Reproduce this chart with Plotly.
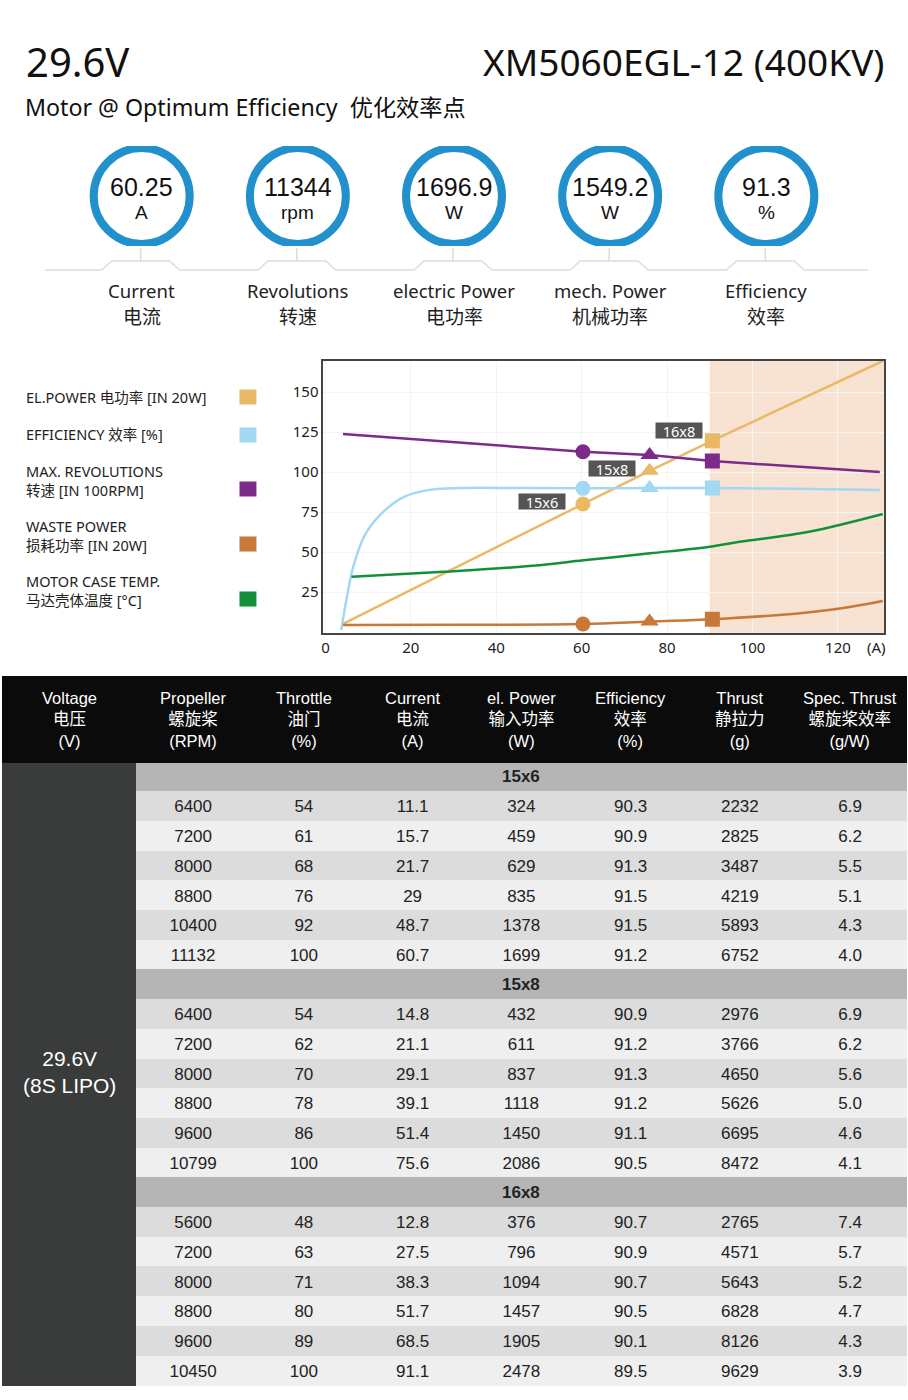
import plotly.graph_objects as go

W, H = 908, 1400


def fx(p):
    # pixel x -> paper
    return p / W


def fy(p):
    # pixel y (from top) -> paper
    return 1 - p / H


TXT = "Noto Sans, Noto Sans CJK SC"
ARIAL = "Liberation Sans, Arial, Noto Sans CJK SC"

# ---- header badges ----
badge_values = ["60.25", "11344", "1696.9", "1549.2", "91.3"]
badge_units = ["A", "rpm", "W", "W", "%"]
badge_en = ["Current", "Revolutions", "electric Power", "mech. Power", "Efficiency"]
badge_cn = ["电流", "转速", "电功率", "机械功率", "效率"]

# ---- chart curves (current in A) ----
amps_el = [4, 60.3, 75.9, 90.6, 130.5]
el_power = [5, 80, 100.8, 119.6, 169.4]
amps_eff = [3.7, 4.9, 6.5, 9.1, 13.1, 18.4, 24.7, 31.7, 45.7, 60.3, 75.9, 90.6, 110, 129.8]
efficiency = [1.2, 20, 40.6, 60, 74, 84.5, 89, 90, 90, 89.8, 90, 90, 89.5, 88.7]
amps_rev = [4.1, 60.3, 75.9, 90.6, 129.8]
revolutions = [123.8, 112.7, 110.6, 106.9, 100]
amps_waste = [4.1, 30, 60.3, 75.9, 90.6, 110, 120, 130.5]
waste_power = [4.4, 4.5, 5.0, 6.6, 8.0, 11.5, 14.5, 19.4]
amps_temp = [6.1, 27.8, 45.7, 60.4, 76, 90, 97, 113.2, 130.5]
case_temp = [34.6, 37.7, 40.8, 44.8, 49.2, 53.3, 56.4, 62.7, 73.8]

props = ["15x6", "15x8", "16x8"]
prop_amps = [60.3, 75.9, 90.6]
prop_el = [80, 100.8, 119.6]
prop_eff = [89.8, 90.0, 90.0]
prop_rev = [112.7, 110.6, 106.9]
prop_waste = [5.0, 6.6, 8.0]
overload_from = 90

legend_labels = [
    "EL.POWER 电功率 [IN 20W]",
    "EFFICIENCY 效率 [%]",
    "MAX. REVOLUTIONS<br>转速 [IN 100RPM]",
    "WASTE POWER<br>损耗功率 [IN 20W]",
    "MOTOR CASE TEMP.<br>马达壳体温度 [°C]",
]

# ---- table ----
header = ["Voltage<br>电压<br>(V)", "Propeller<br>螺旋桨<br>(RPM)", "Throttle<br>油门<br>(%)",
          "Current<br>电流<br>(A)", "el. Power<br>输入功率<br>(W)", "Efficiency<br>效率<br>(%)",
          "Thrust<br>静拉力<br>(g)", "Spec. Thrust<br>螺旋桨效率<br>(g/W)"]
rpm = ["6400", "7200", "8000", "8800", "10400", "11132",
       "6400", "7200", "8000", "8800", "9600", "10799",
       "5600", "7200", "8000", "8800", "9600", "10450"]
throttle = ["54", "61", "68", "76", "92", "100",
            "54", "62", "70", "78", "86", "100",
            "48", "63", "71", "80", "89", "100"]
current = ["11.1", "15.7", "21.7", "29", "48.7", "60.7",
           "14.8", "21.1", "29.1", "39.1", "51.4", "75.6",
           "12.8", "27.5", "38.3", "51.7", "68.5", "91.1"]
power = ["324", "459", "629", "835", "1378", "1699",
         "432", "611", "837", "1118", "1450", "2086",
         "376", "796", "1094", "1457", "1905", "2478"]
eff = ["90.3", "90.9", "91.3", "91.5", "91.5", "91.2",
       "90.9", "91.2", "91.3", "91.2", "91.1", "90.5",
       "90.7", "90.9", "90.7", "90.5", "90.1", "89.5"]
thrust = ["2232", "2825", "3487", "4219", "5893", "6752",
          "2976", "3766", "4650", "5626", "6695", "8472",
          "2765", "4571", "5643", "6828", "8126", "9629"]
spec = ["6.9", "6.2", "5.5", "5.1", "4.3", "4.0",
        "6.9", "6.2", "5.6", "5.0", "4.6", "4.1",
        "7.4", "5.7", "5.2", "4.7", "4.3", "3.9"]
voltage_label = "29.6V<br>(8S LIPO)"

fig = go.Figure()


def note(x, y, text, size, color="#111", family=TXT, xanchor="center", **kw):
    fig.add_annotation(x=fx(x), y=fy(y), xref="paper", yref="paper", text=text,
                       showarrow=False, xanchor=xanchor, yanchor="middle",
                       font=dict(family=family, size=size, color=color), **kw)


# ---------- chart ----------
c_el, c_eff, c_rev, c_waste, c_temp = "#e9b966", "#a3d8f2", "#7d2b8b", "#c8793a", "#13913a"
curves = [
    (amps_el, el_power, c_el, "linear"),
    (amps_eff, efficiency, c_eff, "spline"),
    (amps_rev, revolutions, c_rev, "linear"),
    (amps_waste, waste_power, c_waste, "spline"),
    (amps_temp, case_temp, c_temp, "spline"),
]
for xs, ys, col, shape in curves:
    fig.add_trace(go.Scatter(x=xs, y=ys, mode="lines",
                             line=dict(color=col, width=2.5, shape=shape),
                             showlegend=False, hoverinfo="skip"))

symbols = ["circle", "triangle-up", "square"]
for i, p in enumerate(props):
    fig.add_trace(go.Scatter(
        x=[prop_amps[i]] * 4,
        y=[prop_el[i], prop_eff[i], prop_rev[i], prop_waste[i]],
        mode="markers",
        marker=dict(symbol=symbols[i], size=15 if i != 1 else 16,
                    color=[c_el, c_eff, c_rev, c_waste]),
        showlegend=False, hoverinfo="skip"))

label_shift = [(-41, 3), (-38, 2), (-33, 10)]
for i, p in enumerate(props):
    fig.add_annotation(x=prop_amps[i], y=prop_el[i], xref="x", yref="y",
                       text=p, showarrow=False, width=46, height=15, valign="middle",
                       xshift=label_shift[i][0], yshift=label_shift[i][1],
                       bgcolor="#555555", borderpad=0,
                       font=dict(family=TXT, size=14.5, color="white"))

fig.add_shape(type="rect", xref="x", yref="y domain", x0=overload_from, x1=130.8,
              y0=0, y1=1, fillcolor="#f8e3d3", line_width=0, layer="below")

note(876, 647, "(A)", 15, "#222")

# ---------- custom legend ----------
legend_cols = [c_el, c_eff, c_rev, c_waste, c_temp]
legend_y = [397, 434, 480, 535, 590]
swatch_y = [397, 435, 489, 544, 599]
for lab, col, ly, sy in zip(legend_labels, legend_cols, legend_y, swatch_y):
    note(22, ly, lab, 14.5, "#222", xanchor="left", align="left")
    fig.add_shape(type="rect", xref="paper", yref="paper",
                  x0=fx(238), x1=fx(255), y0=fy(sy + 7.5), y1=fy(sy - 7.5),
                  fillcolor=col, line_width=0)

# ---------- title ----------
note(22, 62, "29.6V", 40, xanchor="left")
note(886, 62, "XM5060EGL-12 (400KV)", 37, xanchor="right")
note(21, 107, "Motor @ Optimum Efficiency  优化效率点", 23.2, xanchor="left")

# ---------- badges ----------
BX0, BDX = 140, 156.5
idx = list(range(len(badge_values)))
fig.add_trace(go.Scatter(x=idx, y=[0] * len(idx), xaxis="x2", yaxis="y2", mode="markers",
                         marker=dict(symbol="circle-open", size=96, color="#2290cc",
                                     line=dict(color="#2290cc", width=8)),
                         showlegend=False, hoverinfo="skip"))
for i in idx:
    for txt, shift, fam, size, col in [(badge_values[i], 9, ARIAL, 25, "#111"),
                                       (badge_units[i], -16, ARIAL, 19, "#111"),
                                       (badge_en[i], -94, TXT, 18.5, "#222"),
                                       (badge_cn[i], -121, TXT, 19, "#222")]:
        fig.add_annotation(x=i, y=0, xref="x2", yref="y2", text=txt, showarrow=False,
                           xanchor="center", yanchor="middle", yshift=shift,
                           font=dict(family=fam, size=size, color=col))

# connector line under the badges
path = "M %f,%f" % (fx(43), fy(270))
for i in idx:
    c = BX0 + BDX * i
    path += " L %f,%f L %f,%f L %f,%f L %f,%f" % (
        fx(c - 40), fy(270), fx(c - 30), fy(261), fx(c + 28), fy(261), fx(c + 38), fy(270))
path += " L %f,%f" % (fx(868), fy(270))
fig.add_shape(type="path", path=path, xref="paper", yref="paper",
              line=dict(color="#dddddd", width=1.5))
for i in idx:
    c = BX0 + BDX * i - 1
    fig.add_shape(type="line", xref="paper", yref="paper", x0=fx(c), x1=fx(c),
                  y0=fy(248), y1=fy(261), line=dict(color="#dddddd", width=1.5))

# ---------- table ----------
colw = [135, 113, 109, 109, 109, 110, 109, 112]
TOP, HEAD_H, ROW_H = 676, 86, 29.7
n_groups = len(props)
per = len(rpm) // n_groups
data_cols = [rpm, throttle, current, power, eff, thrust, spec]
cols = [[] for _ in range(8)]
fills = [[] for _ in range(8)]
for g in range(n_groups):
    for c in range(8):
        cols[c].append("")
        fills[c].append("#3a3b3b" if c == 0 else "#b5b5b5")
    for r in range(per):
        k = g * per + r
        cols[0].append("")
        fills[0].append("#3a3b3b")
        for c in range(1, 8):
            cols[c].append(data_cols[c - 1][k])
            fills[c].append("#dcdcdc" if r % 2 == 0 else "#efefef")

fig.add_trace(go.Table(
    domain=dict(x=[0, fx(sum(colw))], y=[fy(1389), fy(TOP)]),
    columnwidth=colw,
    header=dict(values=[""] * 8, fill_color="#0b0b0b", line=dict(color="#0b0b0b", width=1),
                align="center", height=HEAD_H,
                font=dict(family=ARIAL, size=16.5, color="white")),
    cells=dict(values=cols, fill=dict(color=fills), line=dict(color=fills, width=1),
               align="center", height=ROW_H,
               font=dict(family=ARIAL, size=17, color="#222"))))

# header labels drawn centred line by line
left = 0
for w, h in zip(colw, header):
    note(left + w / 2, TOP + 43, h, 16.5, "white", family=ARIAL, align="center")
    left += w

# propeller group titles, centred over the data columns
for g, p in enumerate(props):
    yc = TOP + HEAD_H + ROW_H * g * (per + 1) + ROW_H / 2
    note((colw[0] + sum(colw)) / 2, yc, "<b>%s</b>" % p, 17, "#222", family=ARIAL)

note(68, 1072, voltage_label, 21, "white", family=ARIAL, align="center")

fig.update_layout(
    width=W, height=H,
    margin=dict(l=0, r=0, t=0, b=0),
    paper_bgcolor="white", plot_bgcolor="white",
    showlegend=False,
    xaxis=dict(domain=[fx(322), fx(884)], range=[-0.5, 130.8],
               tickvals=[0, 20, 40, 60, 80, 100, 120], ticks="",
               showgrid=True, gridcolor="#f4f4f4", zeroline=False,
               showline=True, linecolor="#444", linewidth=1.5, mirror=True,
               tickfont=dict(family=TXT, size=15, color="#222")),
    yaxis=dict(domain=[fy(633), fy(361)], range=[-0.6, 169.4],
               tickvals=[25, 50, 75, 100, 125, 150], ticks="",
               showgrid=True, gridcolor="#f4f4f4", zeroline=False,
               showline=True, linecolor="#444", linewidth=1.5, mirror=True,
               tickfont=dict(family=TXT, size=15, color="#222")),
    xaxis2=dict(domain=[0, 1], range=[-BX0 / BDX, (W - BX0) / BDX], visible=False,
                anchor="y2"),
    yaxis2=dict(domain=[fy(246), fy(146)], range=[-1, 1], visible=False, anchor="x2"),
)

# the page body has a default 8px margin; drop it so the figure sits at 0,0
fig.write_html("out.html", config={"displayModeBar": False},
               post_script="document.body.style.margin='0px';")
